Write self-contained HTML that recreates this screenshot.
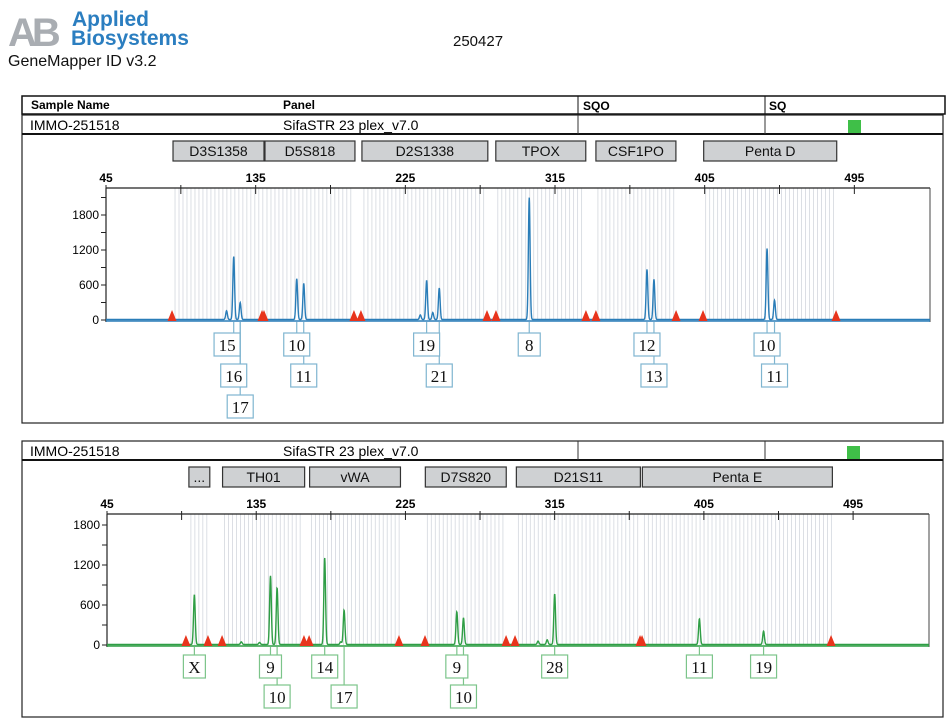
<!DOCTYPE html>
<html><head><meta charset="utf-8">
<style>
html,body{margin:0;padding:0;background:#fff;}
svg{display:block;font-family:"Liberation Sans",Arial,sans-serif;}
.lab{font-family:"Liberation Serif",serif;font-size:17px;}
</style></head>
<body>
<svg id="root" width="949" height="726" viewBox="0 0 949 726" xmlns="http://www.w3.org/2000/svg">
  <g>
    <text x="8" y="46" font-size="40" font-weight="bold" fill="#a9adb2" letter-spacing="-5">AB</text>
    <text x="72" y="26" font-size="21" font-weight="bold" fill="#2b7ec0">Applied</text>
    <text x="71" y="45" font-size="21" font-weight="bold" fill="#2b7ec0">Biosystems</text>
  </g>
  <text x="8" y="66" font-size="16" fill="#111">GeneMapper ID v3.2</text>
  <text x="453" y="46" font-size="15" fill="#111">250427</text>

  <g>
    <rect x="22" y="96" width="923" height="18" fill="#fff" stroke="#111" stroke-width="1.5"/>
    <line x1="578" y1="96" x2="578" y2="114" stroke="#111"/>
    <line x1="765" y1="96" x2="765" y2="114" stroke="#111"/>
    <text x="31" y="109" font-size="12" font-weight="bold">Sample Name</text>
    <text x="283" y="109" font-size="12" font-weight="bold">Panel</text>
    <text x="583" y="110" font-size="12" font-weight="bold">SQO</text>
    <text x="769" y="110" font-size="12" font-weight="bold">SQ</text>
  </g>
  <g id="panel1">
    <rect x="22" y="115" width="921" height="308" fill="none" stroke="#222" stroke-width="1.2"/>
    <line x1="22" y1="134" x2="943" y2="134" stroke="#111" stroke-width="2"/>
    <line x1="578" y1="115" x2="578" y2="134" stroke="#333"/>
    <line x1="765" y1="115" x2="765" y2="134" stroke="#333"/>
    <text x="30" y="130" font-size="14">IMMO-251518</text>
    <text x="283" y="130" font-size="14">SifaSTR 23 plex_v7.0</text>
    <rect x="848" y="120" width="13" height="13" fill="#3fbf48"/>
  </g>
  <g id="panel2">
    <rect x="22" y="441" width="921" height="276" fill="none" stroke="#222" stroke-width="1.2"/>
    <line x1="22" y1="460" x2="943" y2="460" stroke="#111" stroke-width="2"/>
    <line x1="578" y1="441" x2="578" y2="460" stroke="#333"/>
    <line x1="765" y1="441" x2="765" y2="460" stroke="#333"/>
    <text x="30" y="456" font-size="14">IMMO-251518</text>
    <text x="283" y="456" font-size="14">SifaSTR 23 plex_v7.0</text>
    <rect x="847" y="446" width="13" height="13" fill="#3fbf48"/>
  </g>
  <g id="charts"></g>
</svg>
<script>
// ---- data: blue panel ----
const lociTop = ["D3S1358","D5S818","D2S1338","TPOX","CSF1PO","Penta D"];
const lociTopStart = [85.3,140.6,198.9,279.4,339.6,404.4];
const lociTopEnd = [140.0,194.7,274.6,333.5,387.7,484.4];
const peaksTopBp = [117.5,121.8,125.7,159.7,163.9,234.0,237.8,241.5,245.4,299.5,370.3,374.5,442.5,447.0];
const peaksTopRfu = [150,1080,290,700,620,80,670,120,540,2090,860,690,1220,330];
const allelesTop = ["15","16","17","10","11","19","21","8","12","13","10","11"];
const allelesTopBp = [121.8,125.7,125.7,159.7,163.9,237.8,245.4,299.5,370.3,374.5,442.5,447.0];
const allelesTopRow = [0,1,2,0,1,0,1,0,0,1,0,1];
const allelesTopBoxBp = [117.8,121.8,125.7,159.7,163.9,237.8,245.4,299.5,370.3,374.5,442.5,447.0];
const markersTopBp = [84.7,138.8,140.0,194.1,198.3,274.1,279.5,333.6,339.6,387.8,404.0,484.0];
// ---- data: green panel ----
const lociBot = ["...","TH01","vWA","D7S820","D21S11","Penta E"];
const lociBotStart = [94.4,114.7,167.2,237.0,291.9,367.9];
const lociBotEnd = [107.0,164.2,222.0,285.8,366.7,482.5];
const peaksBotBp = [97.7,143.6,147.6,176.3,188.0,256.0,260.0,315.0,305.0,310.5,402.3,441.0,126.0,137.0,186.0];
const peaksBotRfu = [745,1030,850,1300,515,490,400,760,50,70,385,200,40,30,40];
const allelesBot = ["X","9","10","14","17","9","10","28","11","19"];
const allelesBotBp = [97.7,143.6,147.6,176.3,188.0,256.0,260.0,315.0,402.3,441.0];
const allelesBotRow = [0,0,1,0,1,0,1,0,0,0];
const markersBotBp = [92.6,105.9,114.4,163.8,166.9,221.1,236.8,285.7,291.1,366.5,367.7,481.7];
const xTicks = [45,135,225,315,405,495];
const yTicks = [0,600,1200,1800];

const NS="http://www.w3.org/2000/svg";
const root=document.getElementById('charts');
function mk(tag,attrs,parent){const e=document.createElementNS(NS,tag);for(const k in attrs)e.setAttribute(k,attrs[k]);(parent||root).appendChild(e);return e;}

function drawPanel(cfg){
  const xS=bp=>cfg.x0+(bp-45)*cfg.pxPerBp;
  const yS=v=>cfg.y0-v*cfg.pxPerRfu;
  const g=mk('g',{});
  
  
  cfg.loci.forEach((nm,i)=>{
    const x1=xS(cfg.ls[i]),x2=xS(cfg.le[i]);
    const r=mk('rect',{x:x1,y:cfg.boxY,width:x2-x1,height:20,fill:'#cfd1d3',stroke:'#333','stroke-width':1.2},g);
    
    
    const t=mk('text',{x:(x1+x2)/2,y:cfg.boxY+15,'font-size':14,'text-anchor':'middle',fill:'#111'},g);
    t.textContent=nm;
    
    
    for(let b=cfg.ls[i]+1.2;b<cfg.le[i]-0.5;b+=2.4){
      const l=mk('line',{x1:xS(b),x2:xS(b),y1:cfg.top,y2:cfg.y0,stroke:'#d3d7de','stroke-width':0.8},g);
      
      
    }
  });
  const right=cfg.right;
  mk('line',{x1:cfg.x0,y1:cfg.top,x2:right,y2:cfg.top,stroke:'#222','stroke-width':1.2},g);
  mk('line',{x1:right,y1:cfg.top,x2:right,y2:cfg.y0+2,stroke:'#444','stroke-width':1},g);
  mk('line',{x1:cfg.x0,y1:cfg.top,x2:cfg.x0,y2:cfg.y0+2,stroke:'#222','stroke-width':1.2},g);
  mk('line',{x1:cfg.x0,y1:cfg.y0+1,x2:right,y2:cfg.y0+1,stroke:cfg.color,'stroke-width':1.5},g);
  for(let v=45;v<=495;v+=45){
    mk('line',{x1:xS(v),x2:xS(v),y1:cfg.top-3,y2:cfg.top+6,stroke:'#222'},g);
  }
  xTicks.forEach(v=>{
    const t=mk('text',{x:xS(v),y:cfg.top-6,'font-size':12,'font-weight':'bold','text-anchor':'middle'},g);
    t.textContent=v;
    
    
  });
  for(let v=0;v<=2100;v+=300){
    if(yS(v)<cfg.top)break;
    mk('line',{x1:cfg.x0-5,x2:cfg.x0,y1:yS(v),y2:yS(v),stroke:'#222'},g);
  }
  yTicks.forEach(v=>{
    const t=mk('text',{x:cfg.x0-7,y:yS(v)+4,'font-size':12,'text-anchor':'end'},g);
    t.textContent=v;
    
    
  });
  let d='';const s=0.85;
  for(let px=cfg.x0;px<=right;px+=0.25){
    let v=8;
    cfg.pb.forEach((bp,i)=>{const dx=px-xS(bp);v+=cfg.pr[i]*Math.exp(-dx*dx/(2*s*s));});
    d+=(d?'L':'M')+px.toFixed(2)+','+yS(v).toFixed(1);
  }
  const p=mk('path',{d:d,fill:'none',stroke:cfg.color,'stroke-width':1.4},g);
  
  
  cfg.mk.forEach(bp=>{
    const x=xS(bp),y=cfg.y0+1;
    const t=mk('polygon',{points:`${x-4.5},${y} ${x+4.5},${y} ${x},${y-11}`,fill:'#e8341c'},g);
    
    
  });
  // connector lines first
  cfg.al.forEach((txt,i)=>{
    const px=xS(cfg.ab[i]);
    const by=cfg.rowY[cfg.ar[i]];
    const l=mk('line',{x1:px,x2:px,y1:cfg.y0+2,y2:by,stroke:cfg.lblColor,'stroke-width':1.2},g);
    
    
  });
  cfg.al.forEach((txt,i)=>{
    const px=xS(cfg.ab[i]);
    const bx=cfg.abox?xS(cfg.abox[i]):px;
    const by=cfg.rowY[cfg.ar[i]];
    const w=txt.length>1?26:22;
    const r=mk('rect',{x:bx-w/2,y:by,width:w,height:23,fill:'#fff',stroke:cfg.lblColor,'stroke-width':1.2},g);
    
    
    const t=mk('text',{x:bx,y:by+18,'text-anchor':'middle',class:'lab',fill:'#111'},g);
    t.textContent=txt;
    
    
  });
}
drawPanel({name:'blue-dye-chart',x0:106,pxPerBp:1.663,y0:320,pxPerRfu:35/600,top:188,right:930,boxY:141,
  loci:lociTop,ls:lociTopStart,le:lociTopEnd,pb:peaksTopBp,pr:peaksTopRfu,mk:markersTopBp,
  al:allelesTop,ab:allelesTopBp,ar:allelesTopRow,abox:allelesTopBoxBp,rowY:[333,364,395],color:'#2a7db8',lblColor:'#7fb5d0'});
drawPanel({name:'green-dye-chart',x0:107,pxPerBp:1.658,y0:645,pxPerRfu:40/600,top:514,right:929,boxY:467,
  loci:lociBot,ls:lociBotStart,le:lociBotEnd,pb:peaksBotBp,pr:peaksBotRfu,mk:markersBotBp,
  al:allelesBot,ab:allelesBotBp,ar:allelesBotRow,abox:null,rowY:[655,685],color:'#2f9e45',lblColor:'#7cc48a'});
</script>
</body></html>
